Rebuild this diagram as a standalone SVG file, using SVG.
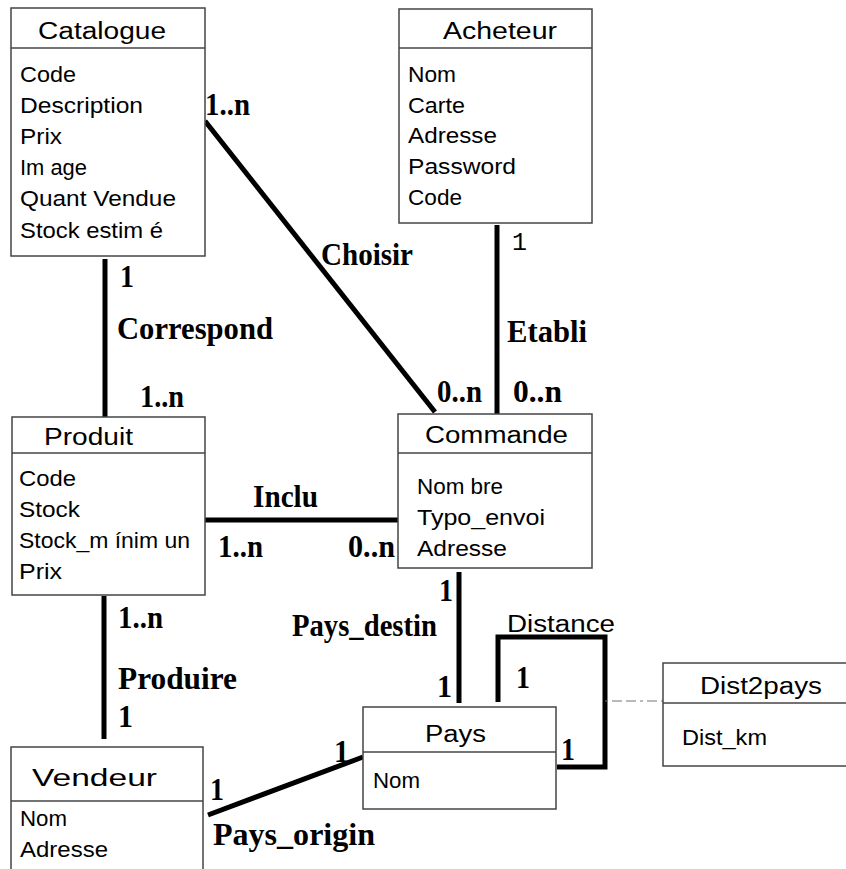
<svg xmlns="http://www.w3.org/2000/svg" width="846" height="869" viewBox="0 0 846 869">
<style>
.box{fill:#fff;stroke:#444;stroke-width:1.5}
.div{stroke:#444;stroke-width:1.5}
.title{font-family:"Liberation Sans",Arial,sans-serif;font-size:23px;fill:#000;text-anchor:start}
.attr{font-family:"Liberation Sans",Arial,sans-serif;font-size:22px;fill:#000}
.lbl{font-family:"Liberation Serif","Times New Roman",serif;font-size:32px;font-weight:bold;fill:#000}
.mono{font-family:"Liberation Mono","Courier New",monospace;font-size:25px;fill:#000}
.rel{stroke:#000;stroke-width:5;fill:none}
.dash{stroke:#777;stroke-width:1.2;stroke-dasharray:3,4,10,4,10,4}
</style>
<rect width="846" height="869" fill="#fff"/>
<g id="connectors">
<line class="rel" x1="205" y1="121" x2="435" y2="412"/>
<line class="rel" x1="105" y1="259" x2="105" y2="417"/>
<line class="rel" x1="497" y1="225" x2="497" y2="414"/>
<line class="rel" x1="205" y1="520" x2="398" y2="520"/>
<line class="rel" x1="459" y1="572" x2="459" y2="703"/>
<line class="rel" x1="104" y1="596" x2="104" y2="739"/>
<line class="rel" x1="208" y1="815" x2="363" y2="757"/>
<path class="rel" d="M498,702 V637 H605 V767 H557"/>
<line class="dash" x1="605" y1="701" x2="663" y2="701"/>
<text class="lbl" x="205" y="115" textLength="45" lengthAdjust="spacingAndGlyphs">1..n</text>
<text class="lbl" x="120" y="287" textLength="14" lengthAdjust="spacingAndGlyphs">1</text>
<text class="lbl" x="117" y="339" textLength="156" lengthAdjust="spacingAndGlyphs">Correspond</text>
<text class="lbl" x="140" y="407" textLength="44" lengthAdjust="spacingAndGlyphs">1..n</text>
<text class="lbl" x="321" y="265" textLength="92" lengthAdjust="spacingAndGlyphs">Choisir</text>
<text class="mono" x="512" y="250" textLength="15" lengthAdjust="spacingAndGlyphs">1</text>
<text class="lbl" x="507" y="342" textLength="80" lengthAdjust="spacingAndGlyphs">Etabli</text>
<text class="lbl" x="437" y="402" textLength="45" lengthAdjust="spacingAndGlyphs">0..n</text>
<text class="lbl" x="513" y="402" textLength="49" lengthAdjust="spacingAndGlyphs">0..n</text>
<text class="lbl" x="253" y="507" textLength="65" lengthAdjust="spacingAndGlyphs">Inclu</text>
<text class="lbl" x="218" y="557" textLength="45" lengthAdjust="spacingAndGlyphs">1..n</text>
<text class="lbl" x="348" y="557" textLength="47" lengthAdjust="spacingAndGlyphs">0..n</text>
<text class="lbl" x="439" y="601" textLength="14" lengthAdjust="spacingAndGlyphs">1</text>
<text class="lbl" x="292" y="636" textLength="145" lengthAdjust="spacingAndGlyphs">Pays_destin</text>
<text class="lbl" x="437" y="697" textLength="15" lengthAdjust="spacingAndGlyphs">1</text>
<text class="lbl" x="118" y="628" textLength="45" lengthAdjust="spacingAndGlyphs">1..n</text>
<text class="lbl" x="118" y="689" textLength="119" lengthAdjust="spacingAndGlyphs">Produire</text>
<text class="lbl" x="118" y="727" textLength="15" lengthAdjust="spacingAndGlyphs">1</text>
<text class="lbl" x="210" y="800" textLength="14" lengthAdjust="spacingAndGlyphs">1</text>
<text class="lbl" x="334" y="762" textLength="15" lengthAdjust="spacingAndGlyphs">1</text>
<text class="lbl" x="213" y="845" textLength="162" lengthAdjust="spacingAndGlyphs">Pays_origin</text>
<text class="lbl" x="516" y="688" textLength="14" lengthAdjust="spacingAndGlyphs">1</text>
<text class="lbl" x="561" y="760" textLength="14" lengthAdjust="spacingAndGlyphs">1</text>
<text class="title" x="507" y="632" textLength="108" lengthAdjust="spacingAndGlyphs">Distance</text>
</g>
<g id="catalogue">
<rect class="box" x="11" y="8" width="194" height="248"/>
<line class="div" x1="11" y1="48" x2="205" y2="48"/>
<text class="title" x="38" y="39" textLength="128" lengthAdjust="spacingAndGlyphs">Catalogue</text>
<text class="attr" x="20" y="82" textLength="56" lengthAdjust="spacingAndGlyphs">Code</text>
<text class="attr" x="20" y="113" textLength="123" lengthAdjust="spacingAndGlyphs">Description</text>
<text class="attr" x="20" y="144" textLength="42" lengthAdjust="spacingAndGlyphs">Prix</text>
<text class="attr" x="20" y="175" textLength="67" lengthAdjust="spacingAndGlyphs">Im age</text>
<text class="attr" x="20" y="206" textLength="156" lengthAdjust="spacingAndGlyphs">Quant Vendue</text>
<text class="attr" x="20" y="238" textLength="143" lengthAdjust="spacingAndGlyphs">Stock estim é</text>
</g>
<g id="acheteur">
<rect class="box" x="399" y="9" width="193" height="214"/>
<line class="div" x1="399" y1="48" x2="592" y2="48"/>
<text class="title" x="443" y="39" textLength="114" lengthAdjust="spacingAndGlyphs">Acheteur</text>
<text class="attr" x="408" y="82" textLength="48" lengthAdjust="spacingAndGlyphs">Nom</text>
<text class="attr" x="408" y="113" textLength="57" lengthAdjust="spacingAndGlyphs">Carte</text>
<text class="attr" x="408" y="143" textLength="89" lengthAdjust="spacingAndGlyphs">Adresse</text>
<text class="attr" x="408" y="174" textLength="108" lengthAdjust="spacingAndGlyphs">Password</text>
<text class="attr" x="408" y="205" textLength="54" lengthAdjust="spacingAndGlyphs">Code</text>
</g>
<g id="produit">
<rect class="box" x="12" y="417" width="193" height="178"/>
<line class="div" x1="12" y1="453" x2="205" y2="453"/>
<text class="title" x="44" y="445" textLength="89" lengthAdjust="spacingAndGlyphs">Produit</text>
<text class="attr" x="19" y="486" textLength="57" lengthAdjust="spacingAndGlyphs">Code</text>
<text class="attr" x="19" y="517" textLength="61" lengthAdjust="spacingAndGlyphs">Stock</text>
<text class="attr" x="19" y="548" textLength="171" lengthAdjust="spacingAndGlyphs">Stock_m ínim un</text>
<text class="attr" x="19" y="579" textLength="43" lengthAdjust="spacingAndGlyphs">Prix</text>
</g>
<g id="commande">
<rect class="box" x="398" y="414" width="194" height="154"/>
<line class="div" x1="398" y1="453" x2="592" y2="453"/>
<text class="title" x="425" y="443" textLength="143" lengthAdjust="spacingAndGlyphs">Commande</text>
<text class="attr" x="417" y="494" textLength="86" lengthAdjust="spacingAndGlyphs">Nom bre</text>
<text class="attr" x="417" y="525" textLength="128" lengthAdjust="spacingAndGlyphs">Typo_envoi</text>
<text class="attr" x="417" y="556" textLength="90" lengthAdjust="spacingAndGlyphs">Adresse</text>
</g>
<g id="pays">
<rect class="box" x="363" y="707" width="193" height="102"/>
<line class="div" x1="363" y1="752" x2="556" y2="752"/>
<text class="title" x="425" y="742" textLength="61" lengthAdjust="spacingAndGlyphs">Pays</text>
<text class="attr" x="373" y="788" textLength="47" lengthAdjust="spacingAndGlyphs">Nom</text>
</g>
<g id="dist2pays">
<rect class="box" x="663" y="663" width="200" height="103"/>
<line class="div" x1="663" y1="703" x2="863" y2="703"/>
<text class="title" x="700" y="694" textLength="122" lengthAdjust="spacingAndGlyphs">Dist2pays</text>
<text class="attr" x="682" y="745" textLength="85" lengthAdjust="spacingAndGlyphs">Dist_km</text>
</g>
<g id="vendeur">
<rect class="box" x="11" y="747" width="192" height="140"/>
<line class="div" x1="11" y1="801" x2="203" y2="801"/>
<text class="title" x="32" y="786" textLength="125" lengthAdjust="spacingAndGlyphs">Vendeur</text>
<text class="attr" x="20" y="826" textLength="47" lengthAdjust="spacingAndGlyphs">Nom</text>
<text class="attr" x="20" y="857" textLength="88" lengthAdjust="spacingAndGlyphs">Adresse</text>
</g>
</svg>
